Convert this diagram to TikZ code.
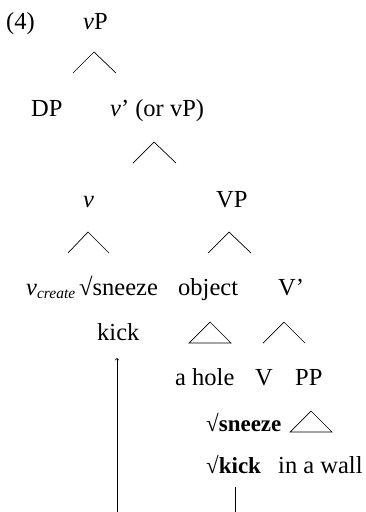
\documentclass[tikz,border=0pt]{standalone}
\usepackage{fontspec}
\setmainfont{Liberation Serif}
\begin{document}
\begin{tikzpicture}[x=1pt,y=-1pt,
  lbl/.style={inner sep=0pt,anchor=base west,font=\fontsize{24.5}{29}\selectfont},
  blbl/.style={inner sep=0pt,anchor=base west,font=\fontsize{23}{28}\selectfont\bfseries},
  tri/.style={line width=0.7pt,line join=miter},
  conn/.style={line width=0.7pt}]
\useasboundingbox (0,0) rectangle (366,512);
% labels
\node[lbl] (ex) at (6,29) {(4)};
\node[lbl] (vP) at (83,29) {\textit{v}P};
\node[lbl] (DP) at (31,116) {DP};
\node[lbl] (vbar) at (110,116) {\textit{v}’ (or vP)};
\node[lbl] (v) at (83,207) {\textit{v}};
\node[lbl] (VP) at (216,207) {VP};
\node[lbl] (vcreate) at (26,295) {\textit{v}\raisebox{-3.5pt}{\fontsize{15.5}{18}\selectfont\textit{create}}};
\node[lbl] (sneeze) at (79,295) {√sneeze};
\node[lbl] (object) at (178,295) {object};
\node[lbl] (Vbar) at (278,295) {V’};
\node[lbl] (kick) at (97,340) {kick};
\node[lbl] (ahole) at (175,385) {a hole};
\node[lbl] (V) at (255,385) {V};
\node[lbl] (PP) at (295,385) {PP};
\node[blbl] (bsneeze) at (206,431) {√sneeze};
\node[blbl] (bkick) at (206,473) {√kick};
\node[lbl] (wall) at (278,473) {in a wall};
% triangles
\draw[tri] (73,73) -- (94,52) -- (116,73);
\draw[tri] (133,163) -- (154,142) -- (176,163);
\draw[tri] (68,253) -- (88,232) -- (109,253);
\draw[tri] (208,253) -- (229,232) -- (251,253);
\draw[tri] (189,343) -- (210,322) -- (231,343) -- cycle;
\draw[tri] (263,343) -- (284,322) -- (305,343);
\draw[tri] (290,432) -- (311,411) -- (332,432) -- cycle;
% movement lines
\coordinate (abot) at (117,512);
\coordinate (atop) at (117,358);
\coordinate (ltop) at (235,487);
\coordinate (lbot) at (235,512);
\draw[conn,->] (abot) -- (atop);
\draw[conn] (ltop) -- (lbot);
\end{tikzpicture}
\end{document}
